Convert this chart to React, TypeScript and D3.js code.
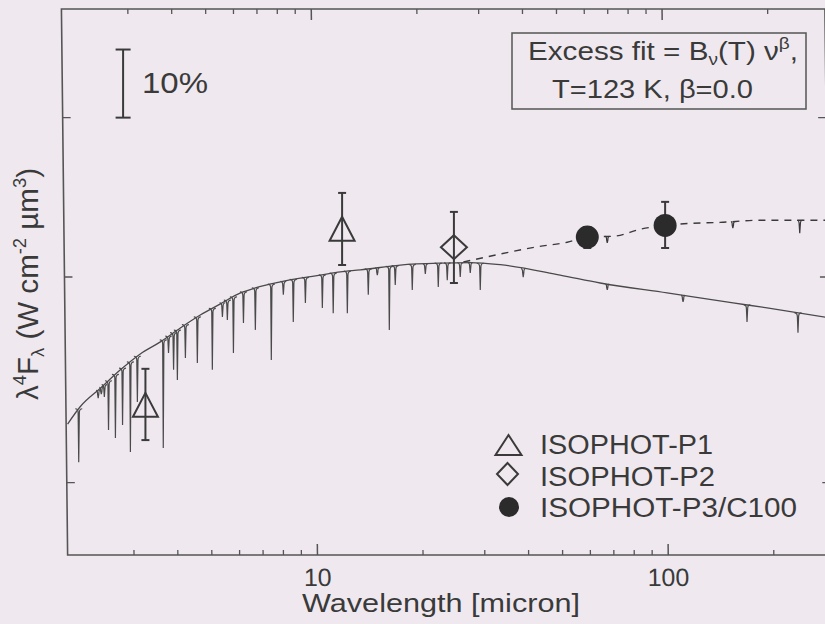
import React from 'react'
import * as d3 from 'd3'

// photospheric model continuum, wavelength in micron, lambda^4 F_lambda in plot units
const contWave = [1.98, 2.15, 2.46, 2.8, 3.19, 3.64, 4.15, 4.73, 5.4, 6.16, 6.79, 8.0, 9.12, 10.4, 11.86, 13.52, 17.58, 22.86, 27.83, 33.88, 50.2, 65.3, 101.3, 156.2, 195.3, 291]
const contFlux = [3.256, 3.336, 3.425, 3.513, 3.592, 3.653, 3.725, 3.793, 3.853, 3.912, 3.94, 3.973, 3.994, 4.011, 4.029, 4.04, 4.068, 4.079, 4.082, 4.07, 4.011, 3.967, 3.912, 3.858, 3.831, 3.78]

// absorption lines of the model: wavelength and flux at the bottom of the line
const lineWave = [2.13, 2.42, 2.47, 2.52, 2.59, 2.71, 2.84, 2.99, 3.13, 3.71, 3.84, 3.97, 4.07, 4.29, 4.64, 5.12, 5.47, 5.65, 5.88, 6.28, 6.79, 7.54, 8.16, 8.71, 9.43, 10.54, 11.32, 12.42, 14.25, 15.12, 16.36, 17.01, 19.02, 20.72, 22.56, 23.93, 26.06, 27.83, 29.72, 39.4, 68.4, 112.5, 171.2, 239.2]
const lineFlux = [3.087, 3.377, 3.396, 3.382, 3.229, 3.193, 3.252, 3.131, 3.358, 3.149, 3.597, 3.513, 3.464, 3.572, 3.547, 3.513, 3.783, 3.767, 3.597, 3.751, 3.715, 3.562, 3.902, 3.756, 3.858, 3.831, 3.803, 3.803, 3.902, 4.011, 3.715, 3.956, 3.929, 4.017, 3.945, 3.983, 4.0, 4.023, 3.929, 4.0, 3.929, 3.864, 3.756, 3.7]

// photosphere + excess fit (dashed)
const totalWave = [26.6, 31.1, 36.2, 42.6, 52.6, 60.3, 72.0, 84.9, 100, 117.8, 143.4, 186.5, 291]
const totalFlux = [4.085, 4.115, 4.143, 4.171, 4.2, 4.23, 4.236, 4.277, 4.3, 4.312, 4.318, 4.331, 4.331]
const totalLineWave = [68.4, 156, 242]
const totalLineFlux = [4.196, 4.284, 4.253]

// ISOPHOT photometry
const p1Wave = [3.3, 12.0]
const p1Flux = [3.345, 4.28]
const p1Lo = [3.184, 4.068]
const p1Hi = [3.518, 4.5]

const p2Wave = [25.0]
const p2Flux = [4.171]
const p2Lo = [3.967]
const p2Hi = [4.382]

const p3Wave = [60, 100]
const p3Flux = [4.23, 4.3]
const p3Lo = [4.166, 4.166]
const p3Hi = [4.29, 4.444]

const legendLabels = ['ISOPHOT-P1', 'ISOPHOT-P2', 'ISOPHOT-P3/C100']

const xMajorTicks = [10, 100]
const xMinorTicks = [3, 4, 5, 6, 7, 8, 9, 20, 30, 40, 50, 60, 70, 80, 90, 200]
const xTickLabels = ['10', '100']
const yTicks = [3, 4, 5]

// 10% scale bar
const barWave = 2.85
const barBase = 5.0
const barRatio = 1.1

const W = 825
const H = 624
const left = 64.5
const right = 828
const top = 9
const bottom = 555

const ink = '#3a3a3a'
const lineInk = '#4a4a4a'
const font = 'Liberation Sans, Arial, Helvetica, sans-serif'

const x = d3.scaleLog().domain([1.94, 291.3]).range([left, right])
const y = d3.scaleLog().domain([2.711, 5.821]).range([bottom, top])

const spikePath = (px, yt, yb) => {
  const d = Math.max(yb - yt, 1.5)
  const w = Math.min(3.5, 1.2 + d * 0.12)
  const r = Math.min(4, d * 0.6)
  return `M${px - w},${yt} Q${px - 0.6},${yt} ${px - 0.6},${yt + r} L${px},${yt + d} L${px + 0.6},${yt + r} Q${px + 0.6},${yt} ${px + w},${yt}`
}

function ErrorBar({ px, lo, hi, cap }) {
  return (
    <g stroke={ink} strokeWidth={2}>
      <line x1={px} x2={px} y1={lo} y2={hi} />
      <line x1={px - cap} x2={px + cap} y1={lo} y2={lo} />
      <line x1={px - cap} x2={px + cap} y1={hi} y2={hi} />
    </g>
  )
}

const triangle = (cx, cy, hw, hh) => `M${cx},${cy - hh} L${cx + hw},${cy + hh} L${cx - hw},${cy + hh} Z`
const diamond = (cx, cy, hw, hh) => `M${cx},${cy - hh} L${cx + hw},${cy} L${cx},${cy + hh} L${cx - hw},${cy} Z`

export default function App() {
  const contLine = d3
    .line()
    .x(d => x(d[0]))
    .y(d => y(d[1]))
    .curve(d3.curveMonotoneX)
  const contPts = contWave.map((w, i) => [w, contFlux[i]])
  const totalPts = totalWave.map((w, i) => [w, totalFlux[i]])

  // continuum height under each line, for attaching the line profile
  const contAt = d3
    .scaleLinear()
    .domain(contPts.map(p => x(p[0])))
    .range(contPts.map(p => y(p[1])))
    .clamp(true)
  const totalAt = d3
    .scaleLinear()
    .domain(totalPts.map(p => x(p[0])))
    .range(totalPts.map(p => y(p[1])))
    .clamp(true)

  const skew = 0.65
  const skewShift = -280 * Math.tan((skew * Math.PI) / 180)

  return (
    <svg width={W} height={H} style={{ position: 'absolute', left: 0, top: 0 }} fontFamily={font}>
      <rect x={0} y={0} width={W} height={H} fill="#efe9ef" />
      <defs>
        <clipPath id="plot">
          <rect x={left} y={top} width={right - left} height={bottom - top} />
        </clipPath>
      </defs>

      <g clipPath="url(#plot)" fill="none">
        <path d={contLine(contPts)} stroke={lineInk} strokeWidth={1.3} />
        {lineWave.map((w, i) => {
          const px = x(w)
          return <path key={i} d={spikePath(px, contAt(px), y(lineFlux[i]))} stroke={lineInk} strokeWidth={1.2} />
        })}
        <path d={contLine(totalPts)} stroke={ink} strokeWidth={1.4} strokeDasharray="7,6" />
        {totalLineWave.map((w, i) => {
          const px = x(w)
          return <path key={i} d={spikePath(px, totalAt(px), y(totalLineFlux[i]))} stroke={ink} strokeWidth={1.2} />
        })}
      </g>

      {/* 10% scale bar */}
      <ErrorBar px={x(barWave)} lo={y(barBase)} hi={y(barBase * barRatio)} cap={7.5} />
      <text x={142} y={93} fontSize={30} fill={ink} textLength={66} lengthAdjust="spacingAndGlyphs">
        10%
      </text>

      {/* photometry */}
      {p1Wave.map((w, i) => (
        <g key={'p1' + i}>
          <ErrorBar px={x(w)} lo={y(p1Lo[i])} hi={y(p1Hi[i])} cap={4} />
          <path d={triangle(x(w), y(p1Flux[i]), 12.5, 12)} fill="none" stroke={ink} strokeWidth={2} />
        </g>
      ))}
      {p2Wave.map((w, i) => (
        <g key={'p2' + i}>
          <ErrorBar px={x(w)} lo={y(p2Lo[i])} hi={y(p2Hi[i])} cap={4} />
          <path d={diamond(x(w), y(p2Flux[i]), 13, 12)} fill="none" stroke={ink} strokeWidth={2} />
        </g>
      ))}
      {p3Wave.map((w, i) => (
        <g key={'p3' + i}>
          <ErrorBar px={x(w)} lo={y(p3Lo[i])} hi={y(p3Hi[i])} cap={4} />
          <circle cx={x(w)} cy={y(p3Flux[i])} r={11.5} fill="#2b2b2b" />
        </g>
      ))}

      {/* frame and ticks, slightly sheared like the scan */}
      <g transform={`translate(${skewShift},0) skewX(${skew})`}>
        <rect x={left} y={top} width={right - left} height={bottom - top} fill="none" stroke="#555" strokeWidth={1.6} />
        {xMajorTicks.map(t => (
          <g key={'M' + t} stroke="#555" strokeWidth={1.5}>
            <line x1={x(t)} x2={x(t)} y1={bottom} y2={bottom - 11} />
            <line x1={x(t)} x2={x(t)} y1={top} y2={top + 11} />
          </g>
        ))}
        {xMinorTicks.map(t => (
          <g key={'m' + t} stroke="#555" strokeWidth={1.3}>
            <line x1={x(t)} x2={x(t)} y1={bottom} y2={bottom - 5} />
            <line x1={x(t)} x2={x(t)} y1={top} y2={top + 5} />
          </g>
        ))}
        {yTicks.map(t => (
          <g key={'y' + t} stroke="#555" strokeWidth={1.4}>
            <line x1={left} x2={left + 8} y1={y(t)} y2={y(t)} />
            <line x1={right} x2={right - 8} y1={y(t)} y2={y(t)} />
          </g>
        ))}
        {xMajorTicks.map((t, i) => (
          <text key={'l' + t} x={x(t)} y={586} textAnchor="middle" fontSize={25} fill={ink}>
            {xTickLabels[i]}
          </text>
        ))}
      </g>

      {/* fit box */}
      <rect x={512} y={33} width={294} height={76} fill="none" stroke="#555" strokeWidth={1.5} />
      <text x={663} y={60} textAnchor="middle" fontSize={25} fill={ink} textLength={270} lengthAdjust="spacingAndGlyphs">
        Excess fit = B<tspan fontSize={16} dy={5}>ν</tspan>
        <tspan dy={-5}>(T) ν</tspan>
        <tspan fontSize={16} dy={-11}>β</tspan>
        <tspan dy={11}>,</tspan>
      </text>
      <text x={652.5} y={98} textAnchor="middle" fontSize={25} fill={ink} textLength={201} lengthAdjust="spacingAndGlyphs">
        T=123 K, β=0.0
      </text>

      {/* legend */}
      <path d={triangle(508.5, 445, 13, 10)} fill="none" stroke={ink} strokeWidth={2} />
      <path d={diamond(507.5, 474, 10.5, 11)} fill="none" stroke={ink} strokeWidth={2} />
      <circle cx={509} cy={507} r={10} fill="#2b2b2b" />
      {legendLabels.map((label, i) => (
        <text
          key={label}
          x={540}
          y={[454, 485.5, 517][i]}
          fontSize={27}
          fill={ink}
          textLength={[173, 175, 257][i]}
          lengthAdjust="spacingAndGlyphs"
        >
          {label}
        </text>
      ))}

      {/* axis titles */}
      <text x={441} y={612} textAnchor="middle" fontSize={25} fill={ink} textLength={278} lengthAdjust="spacingAndGlyphs">
        Wavelength [micron]
      </text>
      <text
        transform="translate(38,284) rotate(-90)"
        textAnchor="middle"
        fontSize={29}
        fill={ink}
        textLength={232}
        lengthAdjust="spacingAndGlyphs"
      >
        λ<tspan fontSize={18} dy={-12}>4</tspan>
        <tspan dy={12}>F</tspan>
        <tspan fontSize={18} dy={6}>λ</tspan>
        <tspan dy={-6}> (W cm</tspan>
        <tspan fontSize={18} dy={-12}>-2</tspan>
        <tspan dy={12}> µm</tspan>
        <tspan fontSize={18} dy={-12}>3</tspan>
        <tspan dy={12}>)</tspan>
      </text>
    </svg>
  )
}
